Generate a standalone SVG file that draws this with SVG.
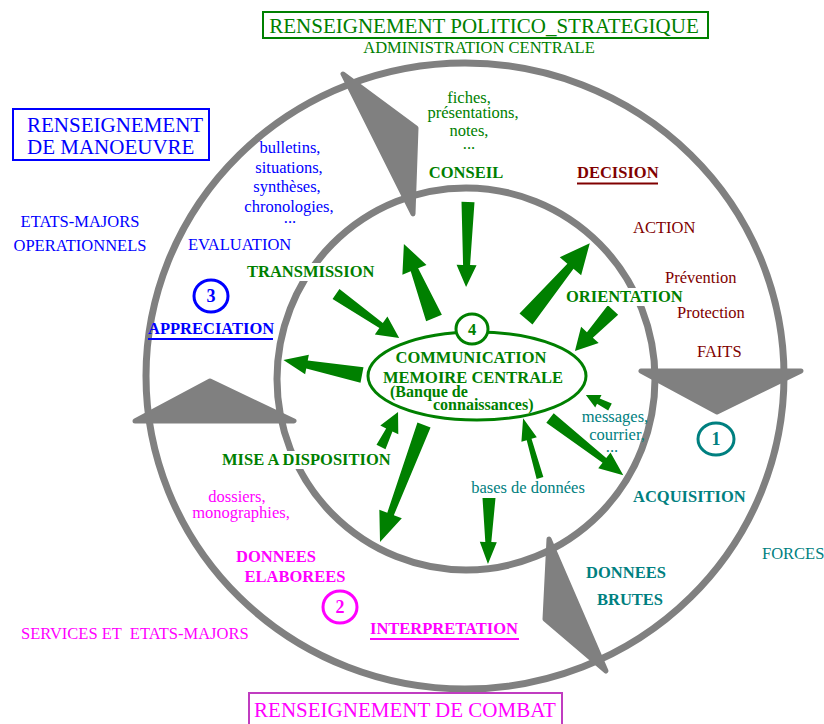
<svg xmlns="http://www.w3.org/2000/svg" width="824" height="724" viewBox="0 0 824 724">
<defs>
<style>
text{font-family:"Liberation Serif","Times New Roman",serif;font-size:16.5px}
.b{font-weight:bold}
.g{fill:#008000}.bl{fill:#0000ff}.r{fill:#800000}.m{fill:#ff00ff}.t{fill:#008080}
.ring{fill:none;stroke:#808080;stroke-width:7}
.tri{fill:#808080;stroke:#808080;stroke-width:5;stroke-linejoin:round}
.ga{fill:#008000}
.mid{text-anchor:middle}
.wb{fill:#ffffff}
</style>
</defs>
<rect width="824" height="724" fill="#ffffff"/>
<g id="rings">
<ellipse class="ring" cx="465" cy="376" rx="319" ry="313"/>
<ellipse class="ring" cx="466" cy="379" rx="189" ry="191"/>
</g>
<g id="cycle-arrows">
<polygon class="tri" points="343,74 416,128 413,214"/>
<polygon class="tri" points="135,421 210,381 294,421"/>
<polygon class="tri" points="641,371 801,371 717,412"/>
<polygon class="tri" points="549,539 545,619 606,671"/>
</g>
<g id="connectors">
<polygon class="ga" transform="translate(468,202) rotate(91.3)" points="0,-6.5 63,-3.5 63,-10 85,0 63,10 63,3.5 0,6.5"/>
<polygon class="ga" transform="translate(434,318) rotate(-112.1)" points="0,-8.5 52,-4 52,-13 80,0 52,13 52,4 0,8.5"/>
<polygon class="ga" transform="translate(526,319) rotate(-49.9)" points="0,-8.5 69,-4 69,-14 99,0 69,14 69,4 0,8.5"/>
<polygon class="ga" transform="translate(613,310) rotate(132.8)" points="0,-7 34,-4 34,-12 56,0 34,12 34,4 0,7"/>
<polygon class="ga" transform="translate(336,294) rotate(34.9)" points="0,-6 55,-3 55,-11 77,0 55,11 55,3 0,6"/>
<polygon class="ga" transform="translate(362,375) rotate(-169.2)" points="0,-8 56,-4 56,-10 80,0 56,10 56,4 0,8"/>
<polygon class="ga" transform="translate(381,447) rotate(-64.1)" points="0,-5 19,-3.5 19,-10 39,0 19,10 19,3.5 0,5"/>
<polygon class="ga" transform="translate(424,425) rotate(110.6)" points="0,-7 95,-3.5 95,-12 125,0 95,12 95,3.5 0,7"/>
<polygon class="ga" transform="translate(540,478) rotate(-105.8)" points="0,-3.5 40,-2.5 40,-8 62,0 40,8 40,2.5 0,3.5"/>
<polygon class="ga" transform="translate(489,498) rotate(90.9)" points="0,-6.5 44,-3 44,-8.5 66,0 44,8.5 44,3 0,6.5"/>
<polygon class="ga" transform="translate(610,407) rotate(-153.4)" points="0,-4 13,-3 13,-7 27,0 13,7 13,3 0,4"/>
<polygon class="ga" transform="translate(550,418) rotate(38)" points="0,-6 69,-3 69,-10 93,0 69,10 69,3 0,6"/>
</g>
<g id="memoire">
<ellipse cx="477" cy="376" rx="109" ry="44" fill="#ffffff" stroke="#008000" stroke-width="3"/>
<ellipse cx="472" cy="329" rx="16" ry="15" fill="#ffffff" stroke="#008000" stroke-width="3"/>
<text class="b g mid" x="472" y="335">4</text>
<text class="b g mid" x="471" y="363">COMMUNICATION</text>
<text class="b g mid" x="473" y="383">MEMOIRE CENTRALE</text>
<text class="b g" x="390" y="397" style="font-size:16px">(Banque de</text>
<text class="b g" x="433" y="410" style="font-size:16px">connaissances)</text>
</g>
<g id="politico">
<rect x="263" y="12" width="445" height="26" fill="none" stroke="#008000" stroke-width="2"/>
<text class="g mid" x="484" y="33" style="font-size:21px">RENSEIGNEMENT POLITICO_STRATEGIQUE</text>
<text class="g mid" x="479" y="53">ADMINISTRATION CENTRALE</text>
</g>
<g id="manoeuvre">
<rect x="13" y="109" width="196" height="51" fill="none" stroke="#0000ff" stroke-width="2"/>
<text class="bl" x="27" y="132" style="font-size:21px">RENSEIGNEMENT</text>
<text class="bl" x="27" y="154" style="font-size:21px">DE MANOEUVRE</text>
<text class="bl mid" x="80" y="227">ETATS-MAJORS</text>
<text class="bl mid" x="80" y="251">OPERATIONNELS</text>
</g>
<g id="conseil">
<text class="g mid" x="469" y="103">fiches,</text>
<text class="g mid" x="473" y="118">présentations,</text>
<text class="g mid" x="469" y="136">notes,</text>
<text class="g mid" x="469" y="149">...</text>
<text class="b g mid" x="466" y="178">CONSEIL</text>
</g>
<g id="decision">
<text class="b r" x="577" y="178">DECISION</text>
<rect x="577" y="182.5" width="81" height="2" fill="#800000"/>
<text class="r" x="633" y="233">ACTION</text>
<text class="r" x="665" y="283">Prévention</text>
<text class="r" x="677" y="318">Protection</text>
<text class="r" x="697" y="357">FAITS</text>
</g>
<g id="orientation">
<rect x="564" y="288" width="122" height="18" class="wb"/>
<text class="b g" x="566" y="302">ORIENTATION</text>
</g>
<g id="transmission">
<rect x="245" y="263" width="130" height="18" class="wb"/>
<text class="b g" x="247" y="277">TRANSMISSION</text>
</g>
<g id="evaluation">
<text class="bl mid" x="290" y="153">bulletins,</text>
<text class="bl mid" x="289" y="173">situations,</text>
<text class="bl mid" x="287" y="192">synthèses,</text>
<text class="bl mid" x="289" y="212">chronologies,</text>
<text class="bl mid" x="290" y="223">...</text>
<text class="bl" x="188" y="250">EVALUATION</text>
</g>
<g id="appreciation">
<ellipse cx="211" cy="296" rx="17" ry="16" fill="none" stroke="#0000ff" stroke-width="3"/>
<text class="b bl mid" x="211" y="302" style="font-size:18px">3</text>
<text class="b bl" x="148" y="334">APPRECIATION</text>
<rect x="148" y="338" width="125" height="2" fill="#0000ff"/>
</g>
<g id="mise">
<rect x="220" y="451" width="172" height="18" class="wb"/>
<text class="b g" x="222" y="465">MISE A DISPOSITION</text>
</g>
<g id="interpretation">
<text class="m mid" x="237" y="502">dossiers,</text>
<text class="m mid" x="241" y="518">monographies,</text>
<text class="b m mid" x="276" y="562">DONNEES</text>
<text class="b m mid" x="295" y="582">ELABOREES</text>
<ellipse cx="340" cy="607" rx="17" ry="16" fill="none" stroke="#ff00ff" stroke-width="3"/>
<text class="b m mid" x="340" y="613" style="font-size:18px">2</text>
<text class="b m" x="370" y="634">INTERPRETATION</text>
<rect x="370" y="638" width="149" height="2" fill="#ff00ff"/>
<text class="m" x="21" y="639" style="white-space:pre">SERVICES ET  ETATS-MAJORS</text>
</g>
<g id="combat">
<rect x="249" y="693" width="313" height="34" fill="none" stroke="#c03cc0" stroke-width="2"/>
<text class="m mid" x="405" y="717" style="font-size:21px">RENSEIGNEMENT DE COMBAT</text>
</g>
<g id="acquisition">
<text class="t mid" x="615" y="422">messages,</text>
<text class="t mid" x="617" y="440">courrier,</text>
<text class="t mid" x="612" y="452">...</text>
<text class="t mid" x="528" y="493">bases de données</text>
<ellipse cx="716" cy="439" rx="18" ry="16" fill="none" stroke="#008080" stroke-width="3"/>
<text class="b t mid" x="716" y="445" style="font-size:18px">1</text>
<text class="b t" x="633" y="502">ACQUISITION</text>
<text class="b t mid" x="626" y="578">DONNEES</text>
<text class="b t mid" x="630" y="605">BRUTES</text>
<text class="t" x="762" y="559">FORCES</text>
</g>
</svg>
